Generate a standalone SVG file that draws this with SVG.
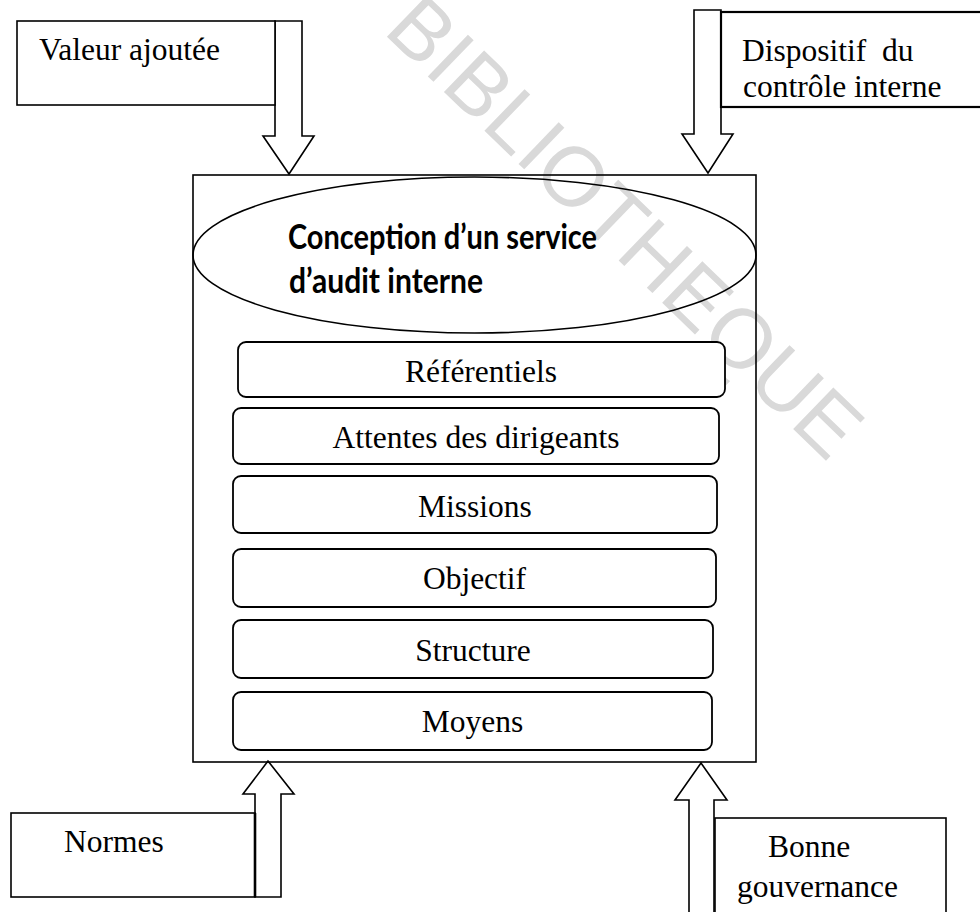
<svg xmlns="http://www.w3.org/2000/svg" width="980" height="912" viewBox="0 0 980 912">
  <style>
    .box { fill: #ffffff; stroke: #000000; stroke-width: 1.6; }
    .frame { fill: none; stroke: #000000; stroke-width: 1.6; }
    .item { fill: #ffffff; stroke: #000000; stroke-width: 1.8; }
    .arrow { fill: #ffffff; stroke: #000000; stroke-width: 1.6; stroke-linejoin: miter; }
    .lbl { font-family: "Liberation Serif", "Times New Roman", serif; font-size: 31.5px; fill: #000000; }
    .mid { text-anchor: middle; }
    .title { font-family: Lato, "Open Sans", "Liberation Sans", sans-serif; font-weight: 700; font-size: 35px; fill: #000000; }
    .mark { font-family: "Liberation Sans", Arial, sans-serif; font-size: 84px; fill: #d9d9d9; }
  </style>
  <rect x="0" y="0" width="980" height="912" fill="#ffffff"/>

  <!-- background stamp -->
  <text class="mark" x="0" y="0" transform="translate(382 32) rotate(44)">BIBLIOTHEQUE</text>

  <!-- outer container with the title ellipse -->
  <g id="conception">
    <rect class="frame" x="193" y="175" width="563" height="587"/>
    <ellipse class="frame" cx="474.5" cy="255" rx="281.5" ry="78"/>
    <text class="title" x="288" y="249" textLength="309" lengthAdjust="spacingAndGlyphs">Conception d’un service</text>
    <text class="title" x="289" y="293" textLength="194" lengthAdjust="spacingAndGlyphs">d’audit interne</text>
  </g>

  <!-- stacked components -->
  <g id="referentiels">
    <rect class="item" x="238" y="342" width="487" height="55" rx="8"/>
    <text class="lbl mid" x="481" y="382">Référentiels</text>
  </g>
  <g id="attentes">
    <rect class="item" x="233" y="408" width="486" height="56" rx="8"/>
    <text class="lbl mid" x="476" y="448">Attentes des dirigeants</text>
  </g>
  <g id="missions">
    <rect class="item" x="233" y="476" width="484" height="57" rx="8"/>
    <text class="lbl mid" x="475" y="517">Missions</text>
  </g>
  <g id="objectif">
    <rect class="item" x="233" y="549" width="483" height="58" rx="8"/>
    <text class="lbl mid" x="474.5" y="589">Objectif</text>
  </g>
  <g id="structure">
    <rect class="item" x="233" y="620" width="480" height="58" rx="8"/>
    <text class="lbl mid" x="473" y="661">Structure</text>
  </g>
  <g id="moyens">
    <rect class="item" x="233" y="692" width="479" height="58" rx="8"/>
    <text class="lbl mid" x="472.5" y="732">Moyens</text>
  </g>

  <!-- block arrows feeding the container -->
  <g id="connectors">
    <polygon class="arrow" points="275,21 302,21 302,136 314,136 289,174 263,136 275,136"/>
    <polygon class="arrow" points="694,10 721,10 721,134 733,134 708,173 682,134 694,134"/>
    <polygon class="arrow" points="255,897 281,897 281,794 294,794 268,761 243,794 255,794"/>
    <polygon class="arrow" points="689,920 714,920 714,800 727,800 701,763 675,800 689,800"/>
  </g>

  <!-- influence boxes -->
  <g id="valeur">
    <rect class="box" x="17" y="21" width="258" height="84"/>
    <text class="lbl" x="39" y="60">Valeur ajoutée</text>
  </g>
  <g id="dispositif">
    <rect class="box" x="721" y="12" width="270" height="95" style="stroke-width:2.2"/>
    <text class="lbl" x="742" y="61">Dispositif&#160; du</text>
    <text class="lbl" x="743" y="97">contrôle interne</text>
  </g>
  <g id="normes">
    <rect class="box" x="11" y="813" width="244" height="84"/>
    <line x1="255" y1="813" x2="255" y2="897" stroke="#000" stroke-width="2.6"/>
    <text class="lbl" x="64" y="852">Normes</text>
  </g>
  <g id="gouvernance">
    <rect class="box" x="715" y="818" width="231" height="110"/>
    <text class="lbl" x="768" y="857">Bonne</text>
    <text class="lbl" x="737" y="897">gouvernance</text>
  </g>
</svg>
